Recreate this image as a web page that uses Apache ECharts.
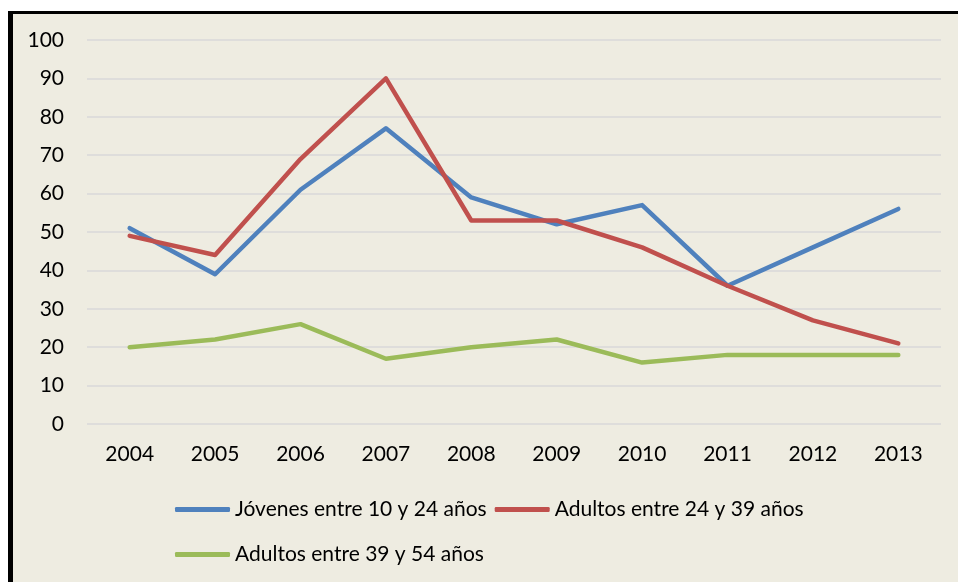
<!DOCTYPE html>
<html>
<head>
<meta charset="utf-8">
<script src="https://cdn.jsdelivr.net/npm/echarts@6/dist/echarts.min.js"></script>
<style>
  html, body { margin: 0; padding: 0; background: #fff; }
  #frame {
    position: absolute; left: 8px; top: 11px;
    width: 945px; height: 571px;
    border-left: 5px solid #000; border-top: 3px solid #000;
    background: #EEECE1;
  }
  #chart { width: 945px; height: 568px; }
</style>
</head>
<body>
<div id="frame"><div id="chart"></div></div>
<script>
// datos
const years = ["2004", "2005", "2006", "2007", "2008", "2009", "2010", "2011", "2012", "2013"];
const jovenes = [51, 39, 61, 77, 59, 52, 57, 36, 46, 56];
const adultos24 = [49, 44, 69, 90, 53, 53, 46, 36, 27, 21];
const adultos39 = [20, 22, 26, 17, 20, 22, 16, 18, 18, 18];
const names = ["Jóvenes entre 10 y 24 años", "Adultos entre 24 y 39 años", "Adultos entre 39 y 54 años"];

const font = "Lato";
const mychart = echarts.init(document.getElementById("chart"));

function serie(name, values, color) {
  return {
    name: name,
    type: "line",
    data: values,
    symbol: "none",
    lineStyle: { width: 4.5, color: color, cap: "round", join: "round" },
    itemStyle: { color: color },
  };
}

const legendBase = {
  left: 157,
  orient: "horizontal",
  icon: "roundRect",
  itemWidth: 55,
  itemHeight: 5,
  itemGap: 8,
  textStyle: { fontFamily: font, fontSize: 21, color: "#000" },
};

mychart.setOption({
  animation: false,
  grid: { left: 74, right: 17, top: 26, bottom: 158 },
  legend: [
    Object.assign({}, legendBase, { top: 480, data: [names[0], names[1]] }),
    Object.assign({}, legendBase, { top: 525, data: [names[2]] }),
  ],
  xAxis: {
    type: "category",
    data: years,
    boundaryGap: true,
    axisLine: { show: false },
    axisTick: { show: false },
    axisLabel: { fontFamily: font, fontSize: 21, color: "#000", margin: 20 },
  },
  yAxis: {
    type: "value",
    min: 0,
    max: 100,
    interval: 10,
    axisLine: { show: false },
    axisTick: { show: false },
    splitLine: { lineStyle: { color: "#D9D9D9", width: 1.5 } },
    axisLabel: { fontFamily: font, fontSize: 21, color: "#000", margin: 23 },
  },
  series: [
    serie(names[0], jovenes, "#4F81BD"),
    serie(names[1], adultos24, "#C0504D"),
    serie(names[2], adultos39, "#9BBB59"),
  ],
});
</script>
</body>
</html>
